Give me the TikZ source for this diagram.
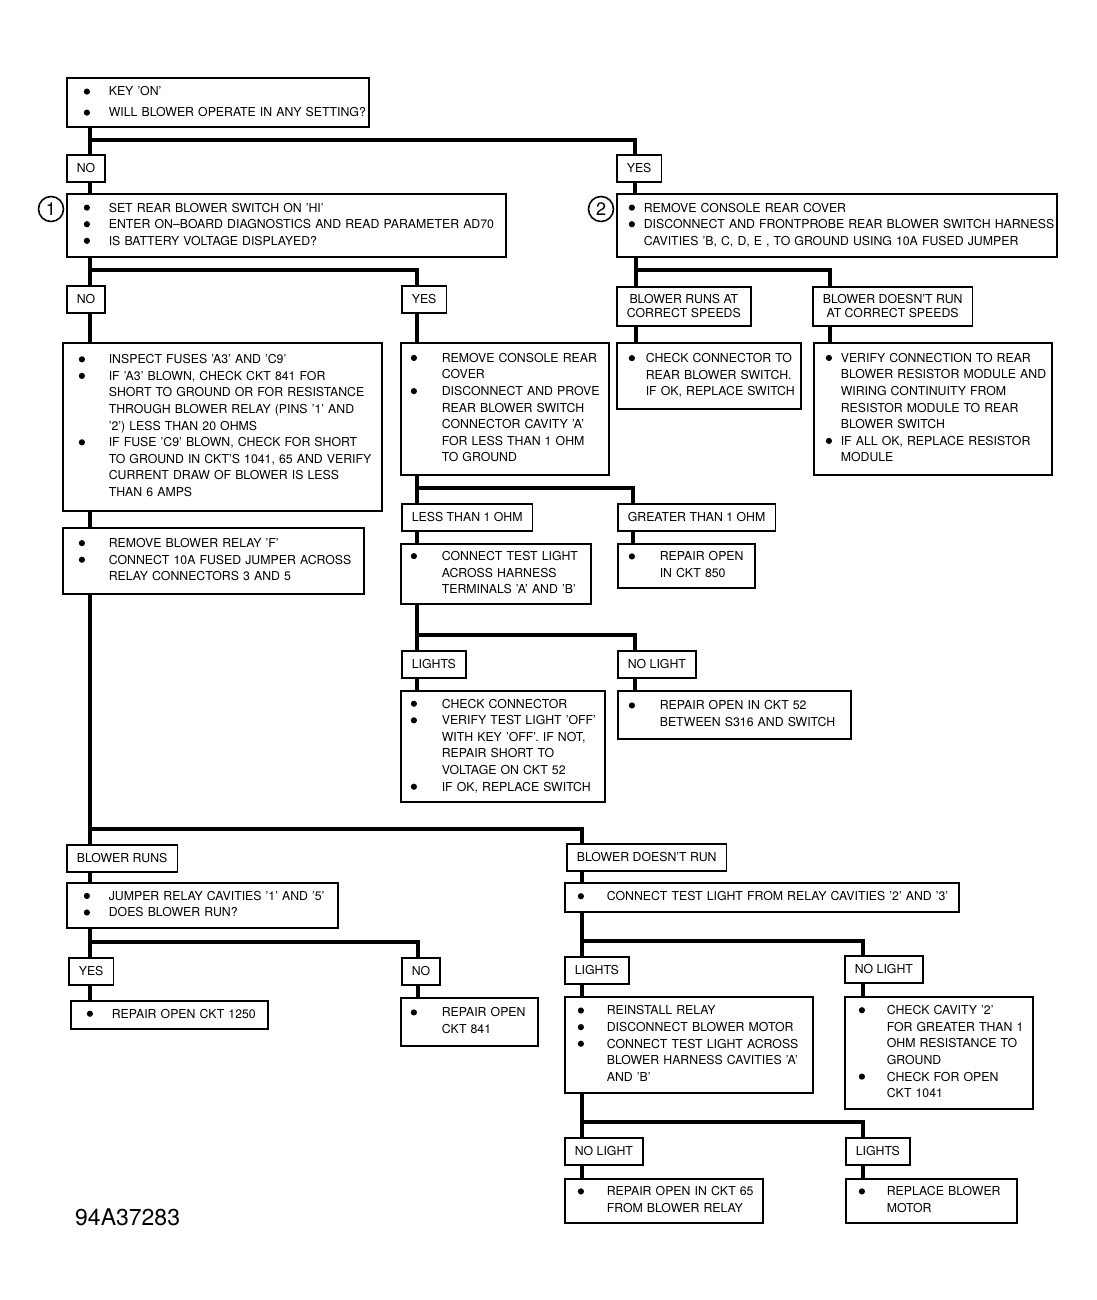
\documentclass[tikz,border=0pt]{standalone}
\usepackage{fontspec}
\setmainfont{TeX Gyre Heros}
\usepackage{tikz}

\newcommand{\bul}{\tikz[baseline=-4.4pt]\fill[black] (0,0) circle (3.1pt);}
\newcommand{\blist}[3]{\noindent\begin{tabular}{@{\hspace{#1pt}}p{#2pt}@{}l@{}}#3\end{tabular}}

\tikzset{
	box/.style={draw=black, line width=1.6pt, anchor=north west, inner xsep=4pt, inner ysep=0pt, align=left, font=\fontsize{12.3}{16.6}\selectfont},
	tag/.style={draw=black, line width=1.6pt, anchor=north west, inner xsep=10pt, inner ysep=0pt, minimum height=27pt, align=center, font=\fontsize{12.3}{14}\selectfont},
	num/.style={shape=circle, draw=black, line width=1.6pt, minimum size=25pt, inner sep=0pt, font=\fontsize{18}{18}\selectfont},
	wire/.style={line width=4pt}
}

\begin{document}
\begin{tikzpicture}[x=1pt,y=-1pt]
	\useasboundingbox (0,0) rectangle (1096,1300);
	\node[box, text width=294pt, minimum height=49pt, font=\fontsize{12.3}{21}\selectfont] (key) at (66,77) {\blist{13}{25}{\bul & KEY 'ON'\\ \bul & WILL BLOWER OPERATE IN ANY SETTING?}};
	\node[tag] (no1) at (66,154) {NO};
	\node[tag] (yes1) at (616,154) {YES};
	\node[box, text width=431pt, minimum height=63pt] (qa) at (66,193) {\blist{13}{25}{\bul & SET REAR BLOWER SWITCH ON 'HI'\\ \bul & ENTER ON--BOARD DIAGNOSTICS AND READ PARAMETER AD70\\ \bul & IS BATTERY VOLTAGE DISPLAYED?}};
	\node[box, text width=432pt, minimum height=63pt] (qb) at (616,193) {\blist{8}{15}{\bul & REMOVE CONSOLE REAR COVER\\ \bul & DISCONNECT AND FRONTPROBE REAR BLOWER SWITCH HARNESS\\ & CAVITIES 'B, C, D, E , TO GROUND USING 10A FUSED JUMPER}};
	\node[num] (c1) at (51,209) {1};
	\node[num] (c2) at (601,209) {2};
	\node[tag] (no2) at (66,285) {NO};
	\node[tag] (yes2) at (401,285) {YES};
	\node[tag, minimum height=39pt] (speedok) at (616,286) {BLOWER RUNS AT\\CORRECT SPEEDS};
	\node[tag, minimum height=39pt] (speedbad) at (812,286) {BLOWER DOESN'T RUN\\AT CORRECT SPEEDS};
	\node[box, text width=311pt, minimum height=168pt] (fuses) at (62,342) {\blist{12}{30}{\bul & INSPECT FUSES 'A3' AND 'C9'\\ \bul & IF 'A3' BLOWN, CHECK CKT 841 FOR\\ & SHORT TO GROUND OR FOR RESISTANCE\\ & THROUGH BLOWER RELAY (PINS '1' AND\\ & '2') LESS THAN 20 OHMS\\ \bul & IF FUSE 'C9' BLOWN, CHECK FOR SHORT\\ & TO GROUND IN CKT'S 1041, 65 AND VERIFY\\ & CURRENT DRAW OF BLOWER IS LESS\\ & THAN 6 AMPS}};
	\node[box, text width=200pt, minimum height=132pt] (cover) at (400,342) {\blist{6}{31}{\bul & REMOVE CONSOLE REAR\\ & COVER\\ \bul & DISCONNECT AND PROVE\\ & REAR BLOWER SWITCH\\ & CONNECTOR CAVITY 'A'\\ & FOR LESS THAN 1 OHM\\ & TO GROUND}};
	\node[box, text width=176pt, minimum height=66pt] (chkconn) at (616,342) {\blist{8}{17}{\bul & CHECK CONNECTOR TO\\ & REAR BLOWER SWITCH.\\ & IF OK, REPLACE SWITCH}};
	\node[box, text width=230pt, minimum height=132pt] (verify) at (813,342) {\blist{8}{15}{\bul & VERIFY CONNECTION TO REAR\\ & BLOWER RESISTOR MODULE AND\\ & WIRING CONTINUITY FROM\\ & RESISTOR MODULE TO REAR\\ & BLOWER SWITCH\\ \bul & IF ALL OK, REPLACE RESISTOR\\ & MODULE}};
	\node[box, text width=293pt, minimum height=66pt] (relay) at (62,527) {\blist{12}{30}{\bul & REMOVE BLOWER RELAY 'F'\\ \bul & CONNECT 10A FUSED JUMPER ACROSS\\ & RELAY CONNECTORS 3 AND 5}};
	\node[tag] (less) at (401,503) {LESS THAN 1 OHM};
	\node[tag] (greater) at (617,503) {GREATER THAN 1 OHM};
	\node[box, text width=182pt, minimum height=60pt] (tlight) at (400,543) {\blist{6}{31}{\bul & CONNECT TEST LIGHT\\ & ACROSS HARNESS\\ & TERMINALS 'A' AND 'B'}};
	\node[box, text width=129pt, minimum height=44pt] (ckt850) at (617,543) {\blist{7}{31}{\bul & REPAIR OPEN\\ & IN CKT 850}};
	\node[tag] (lights1) at (401,650) {LIGHTS};
	\node[tag] (nolight1) at (617,650) {NO LIGHT};
	\node[box, text width=196pt, minimum height=111pt] (chkconn2) at (400,690) {\blist{6}{31}{\bul & CHECK CONNECTOR\\ \bul & VERIFY TEST LIGHT 'OFF'\\ & WITH KEY 'OFF'. IF NOT,\\ & REPAIR SHORT TO\\ & VOLTAGE ON CKT 52\\ \bul & IF OK, REPLACE SWITCH}};
	\node[box, text width=225pt, minimum height=48pt] (ckt52) at (617,690) {\blist{7}{31}{\bul & REPAIR OPEN IN CKT 52\\ & BETWEEN S316 AND SWITCH}};
	\node[tag] (runs) at (66,844) {BLOWER RUNS};
	\node[tag] (noruns) at (566,843) {BLOWER DOESN'T RUN};
	\node[box, text width=263pt, minimum height=45pt] (jumper) at (66,882) {\blist{13}{25}{\bul & JUMPER RELAY CAVITIES '1' AND '5'\\ \bul & DOES BLOWER RUN?}};
	\node[box, text width=386pt, minimum height=29pt] (cavity23) at (564,882) {\blist{9}{29}{\bul & CONNECT TEST LIGHT FROM RELAY CAVITIES '2' AND '3'}};
	\node[tag] (yes3) at (68,957) {YES};
	\node[tag] (no3) at (401,957) {NO};
	\node[box, text width=189pt, minimum height=28pt] (ckt1250) at (70,1000) {\blist{12}{25}{\bul & REPAIR OPEN CKT 1250}};
	\node[box, text width=129pt, minimum height=48pt] (ckt841) at (400,997) {\blist{6}{31}{\bul & REPAIR OPEN\\ & CKT 841}};
	\node[tag] (lights2) at (564,956) {LIGHTS};
	\node[tag] (nolight2) at (844,955) {NO LIGHT};
	\node[box, text width=240pt, minimum height=96pt] (reinstall) at (564,996) {\blist{9}{29}{\bul & REINSTALL RELAY\\ \bul & DISCONNECT BLOWER MOTOR\\ \bul & CONNECT TEST LIGHT ACROSS\\ & BLOWER HARNESS CAVITIES 'A'\\ & AND 'B'}};
	\node[box, text width=180pt, minimum height=112pt] (cavity2) at (844,996) {\blist{10}{28}{\bul & CHECK CAVITY '2'\\ & FOR GREATER THAN 1\\ & OHM RESISTANCE TO\\ & GROUND\\ \bul & CHECK FOR OPEN\\ & CKT 1041}};
	\node[tag] (nolight3) at (564,1137) {NO LIGHT};
	\node[tag] (lights3) at (845,1137) {LIGHTS};
	\node[box, text width=190pt, minimum height=44pt] (ckt65) at (564,1178) {\blist{9}{29}{\bul & REPAIR OPEN IN CKT 65\\ & FROM BLOWER RELAY}};
	\node[box, text width=163pt, minimum height=44pt] (motor) at (845,1178) {\blist{9}{28}{\bul & REPLACE BLOWER\\ & MOTOR}};
	\node[anchor=west, inner sep=0pt, font=\fontsize{23}{23}\selectfont] (fig) at (75,1217) {94A37283};

	\coordinate (j1) at (90,140);
	\coordinate (j1r) at (635,140);
	\coordinate (j2) at (90,270);
	\coordinate (j2r) at (417,270);
	\coordinate (j3) at (636,270);
	\coordinate (j3r) at (830,270);
	\coordinate (j4) at (417,488);
	\coordinate (j4r) at (633,488);
	\coordinate (j5) at (417,635);
	\coordinate (j5r) at (635,635);
	\coordinate (j6) at (90,829);
	\coordinate (j6r) at (582,829);
	\coordinate (j7) at (90,942);
	\coordinate (j7r) at (418,942);
	\coordinate (j8) at (582,941);
	\coordinate (j8r) at (863,941);
	\coordinate (j9) at (582,1122);
	\coordinate (j9r) at (863,1122);

	\draw[wire] (key.south -| j1) -- (no1.north -| j1);
	\draw[wire] (j1) -- (j1r) -- (yes1.north -| j1r);
	\draw[wire] (no1.south -| j1) -- (qa.north -| j1);
	\draw[wire] (yes1.south -| j1r) -- (qb.north -| j1r);
	\draw[wire] (qa.south -| j2) -- (no2.north -| j2);
	\draw[wire] (j2) -- (j2r) -- (yes2.north -| j2r);
	\draw[wire] (no2.south -| j2) -- (fuses.north -| j2);
	\draw[wire] (fuses.south -| j2) -- (relay.north -| j2);
	\draw[wire] (yes2.south -| j2r) -- (cover.north -| j2r);
	\draw[wire] (qb.south -| j3) -- (speedok.north -| j3);
	\draw[wire] (j3) -- (j3r) -- (speedbad.north -| j3r);
	\draw[wire] (speedok.south -| j3) -- (chkconn.north -| j3);
	\draw[wire] (speedbad.south -| j3r) -- (verify.north -| j3r);
	\draw[wire] (cover.south -| j4) -- (less.north -| j4);
	\draw[wire] (j4) -- (j4r) -- (greater.north -| j4r);
	\draw[wire] (less.south -| j4) -- (tlight.north -| j4);
	\draw[wire] (greater.south -| j4r) -- (ckt850.north -| j4r);
	\draw[wire] (tlight.south -| j5) -- (lights1.north -| j5);
	\draw[wire] (j5) -- (j5r) -- (nolight1.north -| j5r);
	\draw[wire] (lights1.south -| j5) -- (chkconn2.north -| j5);
	\draw[wire] (nolight1.south -| j5r) -- (ckt52.north -| j5r);
	\draw[wire] (relay.south -| j6) -- (runs.north -| j6);
	\draw[wire] (j6) -- (j6r) -- (noruns.north -| j6r);
	\draw[wire] (runs.south -| j6) -- (jumper.north -| j6);
	\draw[wire] (noruns.south -| j6r) -- (cavity23.north -| j6r);
	\draw[wire] (jumper.south -| j7) -- (yes3.north -| j7);
	\draw[wire] (j7) -- (j7r) -- (no3.north -| j7r);
	\draw[wire] (yes3.south -| j7) -- (ckt1250.north -| j7);
	\draw[wire] (no3.south -| j7r) -- (ckt841.north -| j7r);
	\draw[wire] (cavity23.south -| j8) -- (lights2.north -| j8);
	\draw[wire] (j8) -- (j8r) -- (nolight2.north -| j8r);
	\draw[wire] (lights2.south -| j8) -- (reinstall.north -| j8);
	\draw[wire] (nolight2.south -| j8r) -- (cavity2.north -| j8r);
	\draw[wire] (reinstall.south -| j9) -- (nolight3.north -| j9);
	\draw[wire] (j9) -- (j9r) -- (lights3.north -| j9r);
	\draw[wire] (nolight3.south -| j9) -- (ckt65.north -| j9);
	\draw[wire] (lights3.south -| j9r) -- (motor.north -| j9r);
\end{tikzpicture}
\end{document}
